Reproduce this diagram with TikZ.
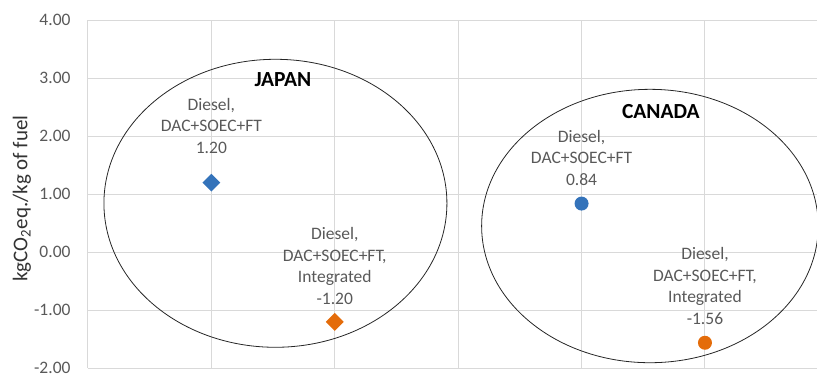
\documentclass[tikz,border=0pt]{standalone}
\usepackage{fontspec}
\setmainfont{Carlito}
\usetikzlibrary{shapes.geometric}
\definecolor{xlblue}{HTML}{3473BA}
\definecolor{xlorange}{HTML}{E46C0A}
\definecolor{xlgrid}{HTML}{D9D9D9}
\definecolor{xltext}{HTML}{595959}
\tikzset{
  gridln/.style = {draw=xlgrid, line width=1pt},
  tick/.style   = {anchor=east, text=xltext, inner sep=0, font=\fontsize{17.5}{21}\selectfont},
  dlabel/.style = {align=center, text=xltext, inner sep=0, font=\fontsize{17.5}{21.5}\selectfont},
  region/.style = {ellipse, draw=black!85, line width=0.8pt, inner sep=0},
  country/.style= {font=\fontsize{21.5}{24}\selectfont\bfseries, inner sep=0},
  ptdia/.style  = {diamond, fill=xlblue, minimum width=18pt, minimum height=18pt, inner sep=0},
  ptdot/.style  = {circle, fill=xlblue, minimum size=14pt, inner sep=0}
}

\begin{document}
\begin{tikzpicture}[x=123.4pt, y=58pt]
  \useasboundingbox (-0.713,-2.098) rectangle (5.908,4.350);

  % griglia
  \foreach \v in {-2,...,4} \draw[gridln] (0,\v) -- (5.908,\v);
  \foreach \i in {0,...,5} \draw[gridln] (\i,-2) -- (\i,4);

  % asse y
  \foreach \v in {-2,...,4} \node[tick] (t\v) at (-0.14,\v) {\ifnum\v<0 -\fi\the\numexpr\ifnum\v<0 -\fi\v\relax.00};
  \node[rotate=90, font=\fontsize{21}{24}\selectfont, text=black!80, inner sep=0] (ylab) at (-0.535,0.928) {kgCO\textsubscript{2}eq./kg of fuel};

  % JAPAN
  \node[region, minimum width=343pt, minimum height=288pt] (jp) at (1.519,0.845) {};
  \node[country] (jpn) at (1.580,2.971) {JAPAN};
  \node[ptdia] (jb) at (1,1.20) {};
  \node[ptdia, fill=xlorange] (jo) at (2,-1.20) {};
  \node[dlabel] (jbl) at (1,2.178) {Diesel,\\DAC+SOEC+FT\\1.20};
  \node[dlabel] (jol) at (2,-0.233) {Diesel,\\DAC+SOEC+FT,\\Integrated\\-1.20};

  % CANADA
  \node[region, minimum width=336.6pt, minimum height=273.4pt] (ca) at (4.554,0.453) {};
  \node[country] (can) at (4.643,2.424) {CANADA};
  \node[ptdot] (cb) at (4,0.84) {};
  \node[ptdot, fill=xlorange] (co) at (5,-1.56) {};
  \node[dlabel] (cbl) at (4,1.626) {Diesel,\\DAC+SOEC+FT\\0.84};
  \node[dlabel] (col) at (5,-0.578) {Diesel,\\DAC+SOEC+FT,\\Integrated\\-1.56};
\end{tikzpicture}
\end{document}
